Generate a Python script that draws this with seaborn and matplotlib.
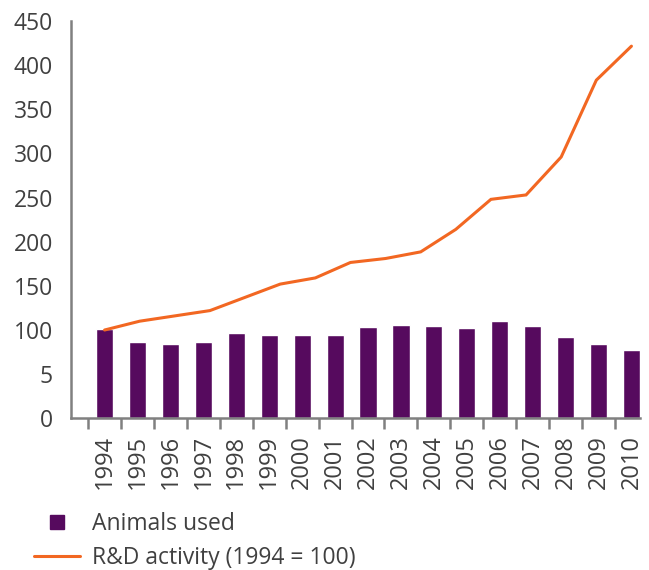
import numpy as np
import pandas as pd
import matplotlib
matplotlib.use("Agg")
import matplotlib.pyplot as plt
from matplotlib.lines import Line2D
import seaborn as sns

years = [str(y) for y in range(1994, 2011)]
animals = [101.5, 86.5, 84.5, 86.5, 97, 94.5, 94.5, 94.5, 103.5, 106, 105, 102.5, 110.5, 105, 92.5, 84.5, 77.5]
rd_activity = [100, 110, 116, 122, 137, 152, 159, 176.5, 181, 188.5, 214, 248, 253, 296, 383, 421.5]
ytick_values = [0, 50, 100, 150, 200, 250, 300, 350, 400, 450]
ytick_labels = ["0", "5", "100", "150", "200", "250", "300", "350", "400", "450"]

bar_color = "#560A5E"
line_color = "#F26722"
text_color = "#404040"
spine_color = "#808080"

sns.set_style("white")
plt.rcParams["font.family"] = ["Open Sans", "DejaVu Sans"]

fig = plt.figure(figsize=(6.49, 5.70), dpi=100)
ax = fig.add_axes([71 / 649, 1 - 418.3 / 570, (640 - 71) / 649, (418.3 - 21) / 570])

df = pd.DataFrame({"year": years, "animals": animals})
sns.barplot(data=df, x="year", y="animals", color=bar_color, saturation=1,
            width=0.52, ax=ax)

line_x = np.linspace(0, len(years) - 1, len(rd_activity))
ax.plot(line_x, rd_activity, color=line_color, lw=2.2, solid_joinstyle="miter")

ax.set_xlim(-1.02, 16.26)
ax.set_ylim(0, 450)
ax.set_yticks(ytick_values)
ax.set_yticklabels(ytick_labels)
ax.set_xticks(range(len(years)))
ax.set_xticklabels(years, rotation=90)
ax.set_xticks(np.arange(-0.5, len(years) - 1, 1), minor=True)
ax.tick_params(axis="x", which="major", length=0, pad=12, labelsize=17, labelcolor=text_color)
ax.tick_params(axis="x", which="minor", length=8, width=1.8, color=spine_color, direction="out", bottom=True)
ax.tick_params(axis="y", length=0, pad=13, labelsize=16.5, labelcolor=text_color)
ax.set_xlabel("")
ax.set_ylabel("")

for s in ["top", "right"]:
    ax.spines[s].set_visible(False)
for s in ["left", "bottom"]:
    ax.spines[s].set_color(spine_color)
    ax.spines[s].set_linewidth(1.8)

handles = [
    Line2D([], [], color=bar_color, marker="s", markersize=10, linestyle="none"),
    Line2D([], [], color=line_color, lw=2.2),
]
leg = fig.legend(handles, ["Animals used", "R&D activity (1994 = 100)"],
                 loc="upper left", bbox_to_anchor=(0.039, 0.117), frameon=False,
                 fontsize=16.5, handlelength=2.0, handletextpad=0.5,
                 labelspacing=0.4, borderaxespad=0)
for t in leg.get_texts():
    t.set_color(text_color)

fig.savefig("out.png", dpi=100)
